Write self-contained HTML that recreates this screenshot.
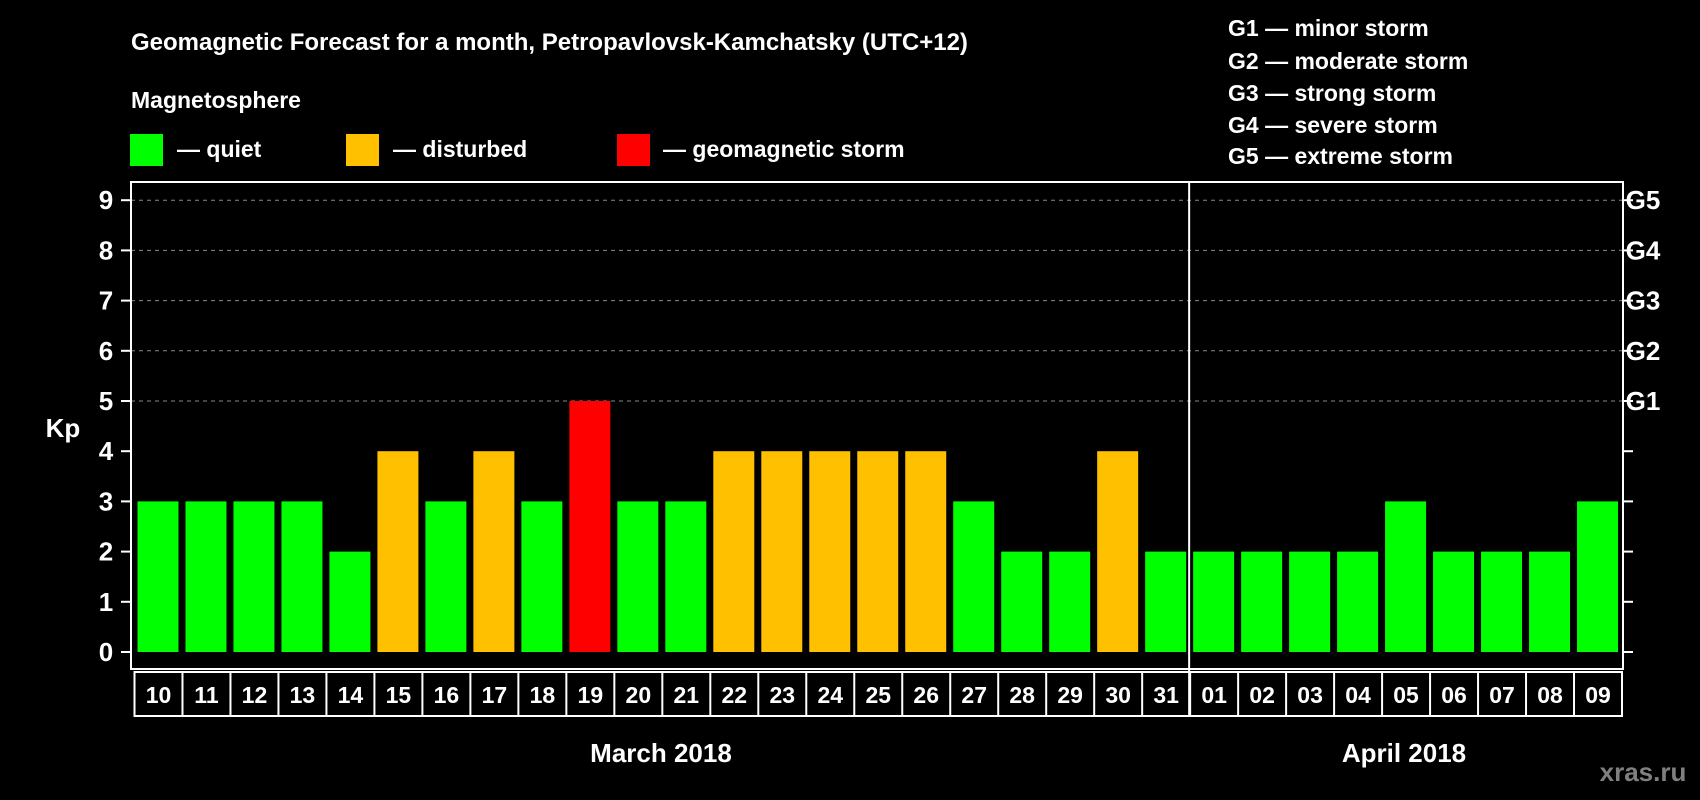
<!DOCTYPE html>
<html><head><meta charset="utf-8"><style>
html,body{margin:0;padding:0;background:#000;width:1700px;height:800px;overflow:hidden}
svg{display:block}
text{font-family:"Liberation Sans",sans-serif;font-weight:bold;fill:#fff}
</style></head><body>
<svg id="chart" width="1700" height="800">
<text x="131" y="50" font-size="24">Geomagnetic Forecast for a month, Petropavlovsk-Kamchatsky (UTC+12)</text>
<text x="131" y="108" font-size="23">Magnetosphere</text>
<g><rect x="130" y="134" width="33" height="32" fill="#00ff00"/><text x="177" y="157" font-size="23">— quiet</text></g>
<g><rect x="346" y="134" width="33" height="32" fill="#ffc000"/><text x="393" y="157" font-size="23">— disturbed</text></g>
<g><rect x="617" y="134" width="33" height="32" fill="#ff0000"/><text x="663" y="157" font-size="23">— geomagnetic storm</text></g>
<g font-size="23">
<text x="1228" y="36">G1 — minor storm</text>
<text x="1228" y="69">G2 — moderate storm</text>
<text x="1228" y="101">G3 — strong storm</text>
<text x="1228" y="133">G4 — severe storm</text>
<text x="1228" y="164">G5 — extreme storm</text>
</g>
<text x="63" y="437" font-size="26" text-anchor="middle">Kp</text>
<text x="661" y="762" font-size="26" text-anchor="middle">March 2018</text>
<text x="1404" y="762" font-size="26" text-anchor="middle">April 2018</text>
<text x="1643" y="781" font-size="26" text-anchor="middle" style="fill:#808080">xras.ru</text>
<g id="plot"></g>
</svg>
<script>
const days=["10","11","12","13","14","15","16","17","18","19","20","21","22","23","24","25","26","27","28","29","30","31","01","02","03","04","05","06","07","08","09"];
const kp=[3,3,3,3,2,4,3,4,3,5,3,3,4,4,4,4,4,3,2,2,4,2,2,2,2,2,3,2,2,2,3];
const yTicks=[0,1,2,3,4,5,6,7,8,9];
const gLabels=["G1","G2","G3","G4","G5"];
const gLevels=[5,6,7,8,9];
const NS="http://www.w3.org/2000/svg";
const L=131,R=1623,T=182,B=669,y0=652,unit=50.2,slotX=134.5,slotW=(1622-134.5)/31;
const y=v=>y0-v*unit;
const x=i=>slotX+i*slotW;
const g=document.getElementById('plot');
function mk(t,a){const e=document.createElementNS(NS,t);for(const k in a)e.setAttribute(k,a[k]);g.appendChild(e);return e;}
// grid
gLevels.forEach(v=>{const e=mk('line',{x1:L,x2:R,y1:y(v),y2:y(v),stroke:'#888','stroke-dasharray':'4,4','stroke-width':1});

});
// bars
kp.forEach((v,i)=>{const c=v>=5?'#ff0000':v>=4?'#ffc000':'#00ff00';
const e=mk('rect',{x:x(i)+3,y:y(v),width:slotW-7,height:v*unit,fill:c});

});
// frame
const fr=mk('rect',{x:L,y:T,width:R-L,height:B-T,fill:'none',stroke:'#fff','stroke-width':2});


const sep=mk('line',{x1:x(22)-1,x2:x(22)-1,y1:T,y2:B+47,stroke:'#fff','stroke-width':2});


// y ticks
yTicks.forEach(v=>{
mk('line',{x1:L-10,x2:L,y1:y(v),y2:y(v),stroke:'#fff','stroke-width':2});
mk('line',{x1:R,x2:R+10,y1:y(v),y2:y(v),stroke:'#fff','stroke-width':2});
const t=mk('text',{x:106,y:y(v)+9,'font-size':26,'text-anchor':'middle'});t.textContent=v;

});
gLabels.forEach((s,i)=>{const t=mk('text',{x:1643,y:y(gLevels[i])+9,'font-size':26,'text-anchor':'middle'});t.textContent=s;

});
// x label boxes
const bx=mk('rect',{x:slotX,y:B+3,width:slotW*31,height:44,fill:'none',stroke:'#fff','stroke-width':2});


days.forEach((d,i)=>{
if(i>0)mk('line',{x1:x(i),x2:x(i),y1:B+3,y2:B+47,stroke:'#fff','stroke-width':2});
const t=mk('text',{x:x(i)+slotW/2,y:B+34,'font-size':23,'text-anchor':'middle'});t.textContent=d;

});
</script>
</body></html>
